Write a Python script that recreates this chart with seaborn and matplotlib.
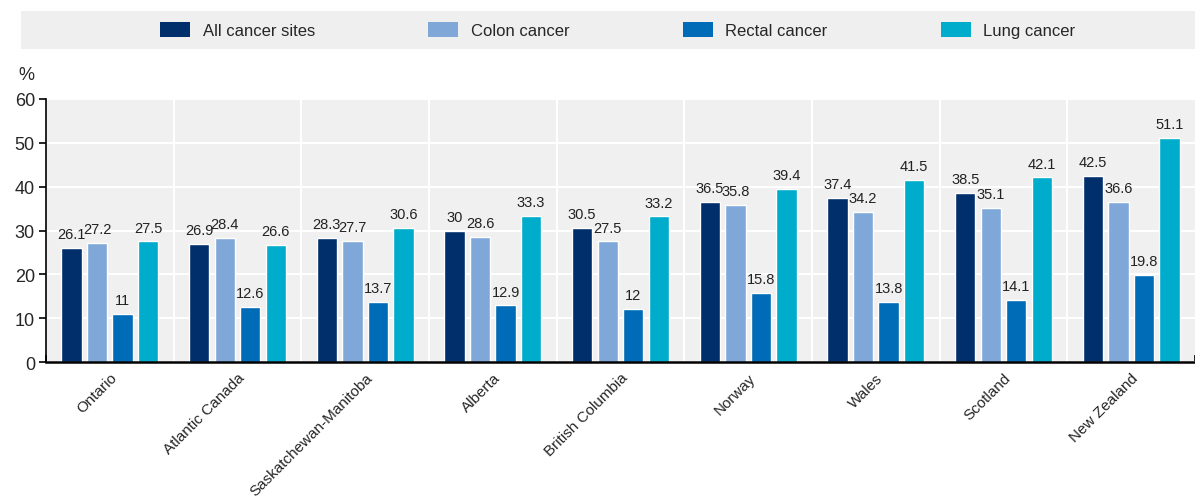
import matplotlib
matplotlib.use("Agg")
import matplotlib.pyplot as plt
import matplotlib.transforms as mtransforms
import seaborn as sns
import pandas as pd
import numpy as np
from matplotlib.patches import Rectangle, Patch

regions = ["Ontario", "Atlantic Canada", "Saskatchewan-Manitoba", "Alberta",
           "British Columbia", "Norway", "Wales", "Scotland", "New Zealand"]
series = ["All cancer sites", "Colon cancer", "Rectal cancer", "Lung cancer"]
all_sites = [26.1, 26.9, 28.3, 30.0, 30.5, 36.5, 37.4, 38.5, 42.5]
colon = [27.2, 28.4, 27.7, 28.6, 27.5, 35.8, 34.2, 35.1, 36.6]
rectal = [11.0, 12.6, 13.7, 12.9, 12.0, 15.8, 13.8, 14.1, 19.8]
lung = [27.5, 26.6, 30.6, 33.3, 33.2, 39.4, 41.5, 42.1, 51.1]
colors = ["#002F6C", "#7FA8D9", "#006BB6", "#00ACCC"]

df = pd.DataFrame({
    "region": regions * 4,
    "series": sum([[s] * len(regions) for s in series], []),
    "value": all_sites + colon + rectal + lung,
})

sns.set_theme(style="white")
plt.rcParams["font.family"] = ["Liberation Sans", "DejaVu Sans"]

fig = plt.figure(figsize=(11.95, 5.02), dpi=100)
ax = fig.add_axes([46 / 1195, 1 - 363 / 502, 1 - 46 / 1195, 263 / 502])
ax.set_facecolor("#F0F0F0")

sns.barplot(data=df, x="region", y="value", hue="series", order=regions,
            hue_order=series, palette=colors, width=0.8, gap=0.2,
            saturation=1, ax=ax, legend=False, zorder=3)

for cont in ax.containers:
    labels = [("%g" % v) for v in cont.datavalues]
    ax.bar_label(cont, labels=labels, padding=5, fontsize=10.5, color="#222222")

ax.set_ylim(0, 60)
ax.set_xlim(-0.5, len(regions) - 0.5)
ax.set_yticks(range(0, 61, 10))
ax.yaxis.grid(True, color="white", linewidth=1.5, zorder=0)
for b in np.arange(0.5, len(regions) - 0.5, 1):
    ax.axvline(b, color="white", linewidth=1.5, zorder=1)
ax.set_axisbelow(True)

ax.set_xticks(np.arange(-0.5, len(regions), 1))
ax.set_xticklabels([])
ax.set_xticks(np.arange(len(regions)), minor=True)
ax.set_xticklabels(regions, minor=True, rotation=45, ha="right",
                   rotation_mode="anchor", fontsize=11)
offset = mtransforms.ScaledTranslation(-10 / 100, 0, fig.dpi_scale_trans)
for lbl in ax.get_xticklabels(minor=True):
    lbl.set_transform(lbl.get_transform() + offset)
ax.tick_params(axis="x", which="major", direction="in", length=5, width=1.2,
               color="black", bottom=True)
ax.tick_params(axis="x", which="minor", length=0, pad=6)
ax.tick_params(axis="y", direction="out", length=5, width=1.2, color="black",
               left=True, labelsize=13, pad=3)
ax.set_xlabel("")
ax.set_ylabel("")
for s in ["top", "right"]:
    ax.spines[s].set_visible(False)
ax.spines["left"].set_color("black")
ax.spines["left"].set_linewidth(1.2)
ax.spines["bottom"].set_color("black")
ax.spines["bottom"].set_linewidth(1.8)
ax.spines["bottom"].set_zorder(5)

fig.text(18 / 1195, 1 - 76 / 502, "%", fontsize=13, va="center", ha="left")

fig.patches.append(Rectangle((21 / 1195, 1 - 50 / 502), 1 - 21 / 1195, 38 / 502,
                             transform=fig.transFigure, facecolor="#EFEFEF",
                             edgecolor="none", zorder=0))
handles = [Patch(facecolor=c, edgecolor="none") for c in colors]
fig.legend(handles, series, loc="center", bbox_to_anchor=(0.517, 1 - 31 / 502),
           ncol=4, frameon=False, fontsize=12, handlelength=1.8,
           handleheight=1.0, handletextpad=0.75, columnspacing=6.8)

fig.savefig("out.png", dpi=100)
